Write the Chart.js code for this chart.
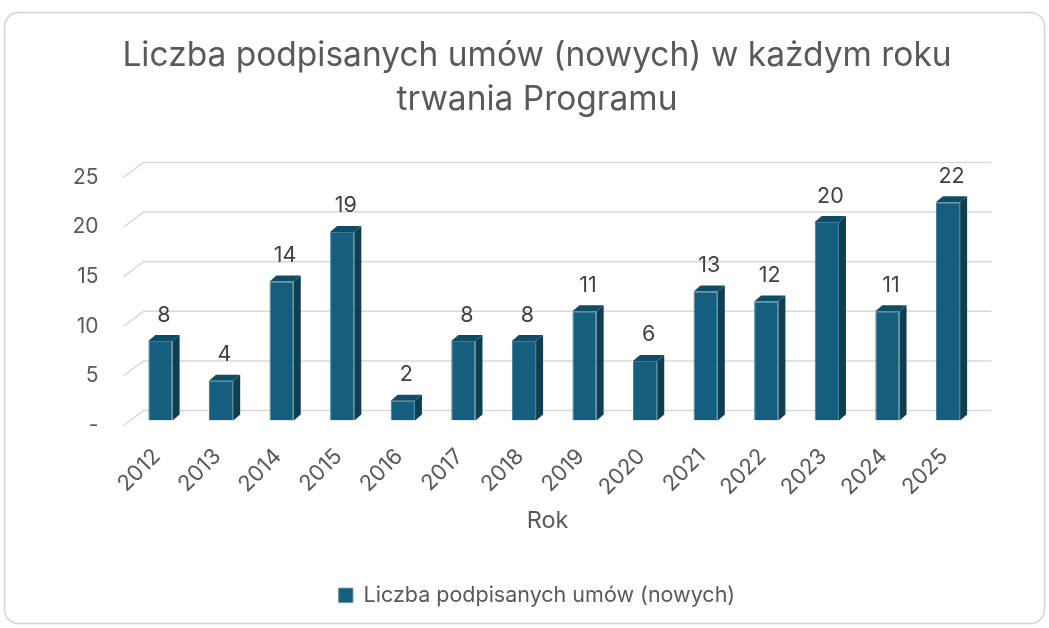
<!DOCTYPE html>
<html>
<head>
<meta charset="utf-8">
<script src="https://cdn.jsdelivr.net/npm/chart.js@4.4.1/dist/chart.umd.min.js"></script>
<style>
  html, body { margin: 0; padding: 0; background: #fff; }
  #wrap { width: 1049px; height: 628px; }
</style>
</head>
<body>
<div id="wrap"><canvas id="myChart" width="1049" height="628"></canvas></div>
<script>
// data
const years = ['2012', '2013', '2014', '2015', '2016', '2017', '2018', '2019', '2020', '2021', '2022', '2023', '2024', '2025'];
const contracts = [8, 4, 14, 19, 2, 8, 8, 11, 6, 13, 12, 20, 11, 22];
const yTicks = [0, 5, 10, 15, 20, 25];
const seriesName = 'Liczba podpisanych umów (nowych)';

const textColor = '#595959';
const font = 'Inter, "Liberation Sans", sans-serif';

// fake 3D: back wall offset and bar depth
const wallX = 20, wallY = 15;
const barShiftX = 6.7, barShiftY = 5;
const depthX = 7, depthY = 6;

const frame = {
  id: 'frame',
  beforeDraw(chart) {
    const ctx = chart.ctx;
    ctx.save();
    ctx.strokeStyle = '#d4d4d4';
    ctx.lineWidth = 1.5;
    ctx.beginPath();
    ctx.roundRect(4.5, 12.5, 1040, 611, 14);
    ctx.stroke();
    ctx.restore();
  }
};

const bars3d = {
  id: 'bars3d',
  beforeDatasetsDraw(chart) {
    const ctx = chart.ctx;
    const {left, right} = chart.chartArea;
    const y = chart.scales.y;
    ctx.save();
    ctx.strokeStyle = '#d9d9d9';
    ctx.lineWidth = 1.5;
    yTicks.forEach(v => {
      const py = y.getPixelForValue(v);
      ctx.beginPath();
      ctx.moveTo(left, py);
      ctx.lineTo(left + wallX, py - wallY);
      ctx.lineTo(right + wallX, py - wallY);
      ctx.stroke();
    });
    ctx.restore();
    ctx.save();
    ctx.translate(barShiftX, -barShiftY);
  },
  afterDatasetsDraw(chart) {
    const ctx = chart.ctx;
    const meta = chart.getDatasetMeta(0);
    meta.data.forEach((bar, i) => {
      const {x, y, base, width} = bar.getProps(['x', 'y', 'base', 'width'], true);
      const l = x - width / 2, r = x + width / 2;
      // side
      ctx.fillStyle = '#0f3e51';
      ctx.beginPath();
      ctx.moveTo(r, y);
      ctx.lineTo(r + depthX, y - depthY);
      ctx.lineTo(r + depthX, base - depthY);
      ctx.lineTo(r, base);
      ctx.closePath();
      ctx.fill();
      // top
      ctx.fillStyle = '#114c66';
      ctx.beginPath();
      ctx.moveTo(l, y);
      ctx.lineTo(l + depthX, y - depthY);
      ctx.lineTo(r + depthX, y - depthY);
      ctx.lineTo(r, y);
      ctx.closePath();
      ctx.fill();
      // value label
      ctx.fillStyle = '#404040';
      ctx.font = '21.5px ' + font;
      ctx.textAlign = 'center';
      ctx.textBaseline = 'middle';
      ctx.fillText(String(contracts[i]), x + depthX / 2, y - 26);
    });
    ctx.restore();
  }
};

new Chart(document.getElementById('myChart'), {
  type: 'bar',
  data: {
    labels: years,
    datasets: [{
      label: seriesName,
      data: contracts,
      backgroundColor: '#165e7e',
      borderColor: '#3b7c97',
      borderWidth: 1,
      categoryPercentage: 1,
      barPercentage: 0.4
    }]
  },
  options: {
    responsive: false,
    animation: false,
    layout: { padding: { left: 30, right: 5, top: 12, bottom: 12 } },
    plugins: {
      title: {
        display: true,
        text: ['Liczba podpisanych umów (nowych) w każdym roku', 'trwania Programu'],
        color: textColor,
        font: { family: font, size: 33.5, weight: 'normal', lineHeight: 1.32 },
        padding: { top: 22, bottom: 55 }
      },
      legend: {
        position: 'bottom',
        labels: {
          color: textColor,
          font: { family: font, size: 21.5 },
          boxWidth: 14,
          boxHeight: 14,
          padding: 9
        }
      },
      tooltip: { enabled: false }
    },
    scales: {
      x: {
        grid: { display: false },
        border: { display: false },
        ticks: {
          color: textColor,
          font: { family: font, size: 22 },
          minRotation: 45,
          maxRotation: 45,
          padding: 10,
          labelOffset: 3
        },
        title: {
          display: true,
          text: 'Rok',
          color: textColor,
          font: { family: font, size: 23.5 },
          padding: { top: 4, bottom: 40 }
        },
        afterFit(scale) { scale.height = 150; }
      },
      y: {
        min: 0,
        max: 25,
        afterBuildTicks(scale) { scale.ticks = yTicks.map(v => ({value: v})); },
        grid: { display: false, drawTicks: false },
        border: { display: false },
        ticks: {
          color: textColor,
          font: { family: font, size: 21 },
          padding: 25,
          callback: v => (v === 0 ? '-' : v)
        },
        afterFit(scale) { scale.width = 93.5; }
      },
      y2: {
        position: 'right',
        display: true,
        grid: { display: false },
        border: { display: false },
        ticks: { display: false },
        afterFit(scale) { scale.width = 72.4; }
      }
    }
  },
  plugins: [frame, bars3d]
});
</script>
</body>
</html>
